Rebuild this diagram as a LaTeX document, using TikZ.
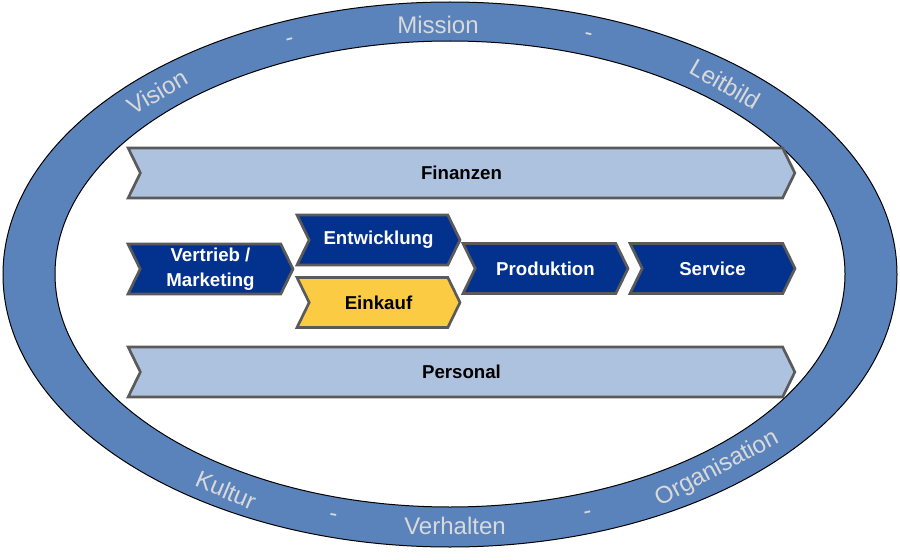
\documentclass[tikz,border=0pt]{standalone}
\usepackage{fontspec}
\setmainfont{Liberation Sans}
\usetikzlibrary{shapes.symbols}

\definecolor{ringblue}{RGB}{91,131,187}
\definecolor{ringtext}{RGB}{217,217,217}
\definecolor{procblue}{RGB}{3,50,142}
\definecolor{supblue}{RGB}{173,194,222}
\definecolor{buyyellow}{RGB}{251,203,68}
\definecolor{chevgray}{RGB}{90,90,90}

\tikzset{every picture/.style={line width=0.75pt}}
\tikzset{
  ringlbl/.style={inner sep=0pt, text=ringtext, font=\fontsize{18}{20}\selectfont},
  chev/.style={signal, signal to=east, signal from=west, signal pointer angle=128,
    draw=chevgray, line width=2pt, inner sep=0pt, minimum height=37.5pt,
    align=center, font=\bfseries\fontsize{14}{19}\selectfont},
  support/.style={chev, fill=supblue, text=black, minimum width=500pt},
  process/.style={chev, fill=procblue, text=white, minimum width=123.75pt},
}

\begin{document}
\begin{tikzpicture}[x=0.75pt,y=0.75pt,yscale=-1,xscale=1]
\useasboundingbox (0,0) rectangle (900,560);

%Shape: Ring [id:ring]
\draw [fill=ringblue, even odd rule] (450,274.5) ellipse [x radius=447, y radius=272.5] (450,274) ellipse [x radius=395, y radius=233] ;

% Text Node
\draw (157,92) node [ringlbl, rotate=30] (vision) {Vision};
% Text Node
\draw (290,42) node [ringlbl, rotate=14] (dasha) {-};
% Text Node
\draw (438,25) node [ringlbl] (mission) {Mission};
% Text Node
\draw (588,37) node [ringlbl, rotate=-12] (dashb) {-};
% Text Node
\draw (725,84) node [ringlbl, rotate=-30] (leitbild) {Leitbild};
% Text Node
\draw (226,490) node [ringlbl, rotate=-23] (kultur) {Kultur};
% Text Node
\draw (333,518) node [ringlbl, rotate=-10] (dashc) {-};
% Text Node
\draw (455,526) node [ringlbl] (verhalten) {Verhalten};
% Text Node
\draw (588,515) node [ringlbl, rotate=12] (dashd) {-};
% Text Node
\draw (717,469) node [ringlbl, rotate=28] (organisation) {Organisation};

%Shape: Chevron [id:finanzen]
\draw (461.5,173) node [support] (finanzen) {Finanzen};
%Shape: Chevron [id:personal]
\draw (461.5,372) node [support] (personal) {Personal};

%Shape: Chevron [id:vertrieb]
\draw (210.5,269) node [process] (vertrieb) {Vertrieb /\\Marketing};
%Shape: Chevron [id:entwicklung]
\draw (378.5,240) node [process, minimum width=122.25pt] (entwicklung) {Entwicklung};
%Shape: Chevron [id:einkauf]
\draw (378.5,302.5) node [process, minimum width=122.25pt, fill=buyyellow, text=black] (einkauf) {Einkauf};
%Shape: Chevron [id:produktion]
\draw (545.5,268.5) node [process] (produktion) {Produktion};
%Shape: Chevron [id:service]
\draw (712.5,268.5) node [process] (service) {Service};

\end{tikzpicture}
\end{document}
